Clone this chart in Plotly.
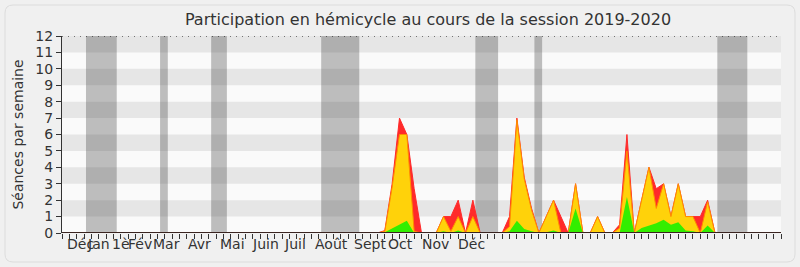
import plotly.graph_objects as go

weeks = list(range(99))

# Seances per week (total / presence / interventions)
red = [0, 0, 0, 0, 0, 0, 0, 0, 0, 0,
       0, 0, 0, 0, 0, 0, 0, 0, 0, 0,
       0, 0, 0, 0, 0, 0, 0, 0, 0, 0,
       0, 0, 0, 0, 0, 0, 0, 0, 0, 0,
       0, 0, 0, 0, 0.15, 3.0, 7, 6, 2.7, 0,
       0, 0, 1, 1, 2, 0, 2, 0, 0, 0,
       0, 1.0, 7, 3.4, 1.5, 0, 1, 2, 1, 0,
       3, 0, 0, 1, 0, 0, 0.5, 6, 0, 2,
       4, 2.7, 3, 1, 3, 1, 1, 1, 2, 0,
       0, 0, 0, 0, 0, 0, 0, 0, 0]
yellow = [0, 0, 0, 0, 0, 0, 0, 0, 0, 0,
          0, 0, 0, 0, 0, 0, 0, 0, 0, 0,
          0, 0, 0, 0, 0, 0, 0, 0, 0, 0,
          0, 0, 0, 0, 0, 0, 0, 0, 0, 0,
          0, 0, 0, 0, 0.1, 2.8, 6, 6, 0.1, 0,
          0, 0, 1, 0.1, 1, 0, 1, 0, 0, 0,
          0, 0.4, 6.9, 3.3, 1.4, 0, 1, 2, 0, 0,
          3, 0, 0, 1, 0, 0, 0.3, 5, 0, 2,
          4, 1.5, 3, 1, 3, 1, 1, 0, 1.9, 0,
          0, 0, 0, 0, 0, 0, 0, 0, 0]
green = [0, 0, 0, 0, 0, 0, 0, 0, 0, 0,
         0, 0, 0, 0, 0, 0, 0, 0, 0, 0,
         0, 0, 0, 0, 0, 0, 0, 0, 0, 0,
         0, 0, 0, 0, 0, 0, 0, 0, 0, 0,
         0, 0, 0, 0, 0.05, 0.3, 0.5, 0.75, 0, 0,
         0, 0, 0.1, 0, 0.15, 0, 0.05, 0, 0, 0,
         0, 0.1, 0.75, 0.25, 0.1, 0, 0.05, 0.15, 0, 0,
         1.5, 0, 0, 0.05, 0, 0, 0, 2.2, 0, 0.3,
         0.45, 0.6, 0.8, 0.5, 0.65, 0.15, 0.1, 0, 0.45, 0,
         0, 0, 0, 0, 0, 0, 0, 0, 0]

month_labels = ["Déc", "Jan", "1è", "Fév", "Mar", "Avr", "Mai", "Juin", "Juil",
                "Août", "Sept", "Oct", "Nov", "Déc"]
month_pos = [2.55, 4.95, 8.0, 10.6, 14.2, 18.7, 23.2, 27.8, 31.8,
             36.8, 42.0, 46.1, 50.9, 55.8]

vac_start = [3.27, 13.37, 20.33, 35.33, 56.34, 64.39, 89.32]
vac_end = [7.46, 14.42, 22.47, 40.52, 59.44, 65.44, 93.41]

FONT = "DejaVu Sans"
TXT = "#333333"

fig = go.Figure()
fig.add_trace(go.Scatter(x=weeks, y=red, mode="lines", fill="tozeroy",
                         line=dict(color="#ff2a2a", width=1),
                         fillcolor="#ff2a2a", hoverinfo="skip"))
fig.add_trace(go.Scatter(x=weeks, y=yellow, mode="lines", fill="tozeroy",
                         line=dict(color="#ff8c00", width=1),
                         fillcolor="#ffd20a", hoverinfo="skip"))
fig.add_trace(go.Scatter(x=weeks, y=green, mode="lines", fill="tozeroy",
                         line=dict(color="#33ee00", width=0),
                         fillcolor="#33ee00", hoverinfo="skip"))

shapes = []
# horizontal stripes
for k in range(1, 12, 2):
    shapes.append(dict(type="rect", xref="paper", yref="y", x0=0, x1=1,
                       y0=k, y1=k + 1, fillcolor="#e6e6e6", line_width=0,
                       layer="below"))
# vacation bands
for a, b in zip(vac_start, vac_end):
    shapes.append(dict(type="rect", xref="x", yref="paper", x0=a, x1=b,
                       y0=0, y1=1, fillcolor="rgba(50,50,50,0.3)",
                       line_width=0, layer="below"))
# dotted line at top
shapes.append(dict(type="line", xref="paper", yref="y", x0=0, x1=1, y0=12, y1=12,
                   line=dict(color="#000000", width=1, dash="1px,5px")))
# dark baseline
shapes.append(dict(type="line", xref="paper", yref="y", x0=0, x1=1, y0=0, y1=0,
                   line=dict(color="#3a2420", width=2)))

# rounded frame around the chart (pixel coords -> paper coords)
L, T, PW, PH = 62, 36, 719, 197
def px(xp):
    return (xp - L) / PW
def py(yp):
    return (T + PH - yp) / PH
x0, x1, y0, y1, r = 5, 795, 5, 262, 8
path = (f"M {px(x0+r)} {py(y0)} L {px(x1-r)} {py(y0)} "
        f"Q {px(x1)} {py(y0)} {px(x1)} {py(y0+r)} L {px(x1)} {py(y1-r)} "
        f"Q {px(x1)} {py(y1)} {px(x1-r)} {py(y1)} L {px(x0+r)} {py(y1)} "
        f"Q {px(x0)} {py(y1)} {px(x0)} {py(y1-r)} L {px(x0)} {py(y0+r)} "
        f"Q {px(x0)} {py(y0)} {px(x0+r)} {py(y0)} Z")
shapes.append(dict(type="path", xref="paper", yref="paper", path=path,
                   line=dict(color="#dcdcdc", width=1), layer="below"))

annotations = []
for lab, pos in zip(month_labels, month_pos):
    annotations.append(dict(x=pos, y=-0.056, xref="x", yref="paper", text=lab,
                            showarrow=False, xanchor="center", yanchor="middle",
                            font=dict(family=FONT, size=14, color=TXT)))

fig.update_layout(
    width=800, height=267,
    margin=dict(l=L, r=800 - L - PW, t=T, b=267 - T - PH),
    paper_bgcolor="#f0f0f0", plot_bgcolor="#fafafa",
    showlegend=False,
    title=dict(text="Participation en hémicycle au cours de la session 2019-2020",
               x=0.535, xanchor="center", y=1 - 19 / 267, yanchor="middle",
               font=dict(family=FONT, size=16, color=TXT)),
    shapes=shapes, annotations=annotations,
    xaxis=dict(range=[0, 98], tickvals=weeks, showticklabels=False,
               ticks="outside", ticklen=5, tickcolor="#333333", tickwidth=1,
               showline=False,
               showgrid=False, zeroline=False, fixedrange=True),
    yaxis=dict(range=[0, 12], dtick=1, tick0=0, ticks="outside", ticklen=5,
               tickcolor="#333333", showline=True, linecolor="#333333",
               linewidth=1, showgrid=False, zeroline=False,
               tickfont=dict(family=FONT, size=14, color=TXT),
               title=dict(text="Séances par semaine", standoff=8,
                          font=dict(family=FONT, size=14, color=TXT))),
)

fig.write_html("out.html")
